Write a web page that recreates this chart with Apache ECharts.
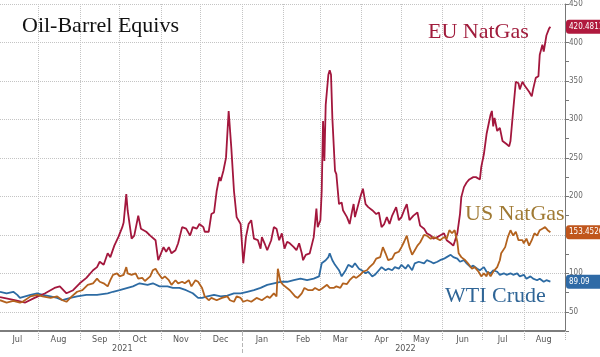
<!DOCTYPE html>
<html><head><meta charset="utf-8">
<script src="https://cdn.jsdelivr.net/npm/echarts@6/dist/echarts.min.js"></script>
<style>html,body{margin:0;padding:0;background:#fff}#c{width:600px;height:357px}</style>
</head><body><div id="c"></div>
<script>
const AXIS_START = [2021, 6, 3];   // 2021-07-03
const AXIS_END = '2022-09-01';
const MONTH_NAMES = ['Jan','Feb','Mar','Apr','May','Jun','Jul','Aug','Sep','Oct','Nov','Dec'];
const YEAR_LABELS = [['2021-10-03','2021'],['2022-05-04','2022']];
const YEAR_SPLIT = '2022-01-01';

const EU_NATGAS = [
['2021-07-03',69],['2021-07-14',65],['2021-07-22',62],['2021-07-29',68],['2021-08-06',74],['2021-08-13',81],['2021-08-17',83],['2021-08-22',74],['2021-08-27',78],['2021-09-01',87],['2021-09-06',94],['2021-09-11',104],['2021-09-14',108],['2021-09-16',115],['2021-09-19',111],['2021-09-22',126],['2021-09-24',121],['2021-09-27',136],['2021-09-30',147],['2021-10-03',160],['2021-10-04',166],['2021-10-06',203],['2021-10-07',182],['2021-10-10',145],['2021-10-12',149],['2021-10-15',175],['2021-10-17',158],['2021-10-19',156],['2021-10-21',154],['2021-10-24',149],['2021-10-28',143],['2021-10-30',117],['2021-10-31',115],['2021-11-03',134],['2021-11-05',128],['2021-11-07',134],['2021-11-09',126],['2021-11-12',130],['2021-11-14',139],['2021-11-17',160],['2021-11-20',158],['2021-11-23',149],['2021-11-25',160],['2021-11-28',158],['2021-11-30',164],['2021-12-03',160],['2021-12-04',154],['2021-12-07',154],['2021-12-09',177],['2021-12-11',179],['2021-12-13',207],['2021-12-15',225],['2021-12-16',220],['2021-12-18',233],['2021-12-20',250],['2021-12-22',311],['2021-12-24',263],['2021-12-26',207],['2021-12-28',173],['2021-12-31',164],['2022-01-02',113],['2022-01-04',147],['2022-01-06',164],['2022-01-08',169],['2022-01-10',145],['2022-01-13',143],['2022-01-15',132],['2022-01-16',147],['2022-01-18',139],['2022-01-20',130],['2022-01-23',143],['2022-01-25',160],['2022-01-27',158],['2022-01-29',143],['2022-01-31',152],['2022-02-02',132],['2022-02-04',141],['2022-02-06',139],['2022-02-09',134],['2022-02-11',130],['2022-02-13',139],['2022-02-15',126],['2022-02-16',117],['2022-02-18',124],['2022-02-21',126],['2022-02-24',147],['2022-02-26',184],['2022-02-27',160],['2022-03-01',169],['2022-03-02',207],['2022-03-03',298],['2022-03-04',246],['2022-03-05',319],['2022-03-07',358],['2022-03-08',364],['2022-03-09',358],['2022-03-10',302],['2022-03-12',233],['2022-03-13',229],['2022-03-15',190],['2022-03-17',192],['2022-03-18',182],['2022-03-21',173],['2022-03-23',164],['2022-03-25',182],['2022-03-26',190],['2022-03-27',173],['2022-03-29',186],['2022-03-31',199],['2022-04-02',210],['2022-04-04',190],['2022-04-06',186],['2022-04-09',182],['2022-04-12',177],['2022-04-14',179],['2022-04-16',160],['2022-04-18',164],['2022-04-20',173],['2022-04-22',164],['2022-04-24',175],['2022-04-27',186],['2022-04-29',169],['2022-05-01',173],['2022-05-03',182],['2022-05-05',190],['2022-05-07',169],['2022-05-10',175],['2022-05-13',179],['2022-05-15',162],['2022-05-18',158],['2022-05-20',152],['2022-05-23',149],['2022-05-25',145],['2022-05-28',147],['2022-05-30',149],['2022-06-02',152],['2022-06-04',143],['2022-06-07',139],['2022-06-09',136],['2022-06-10',141],['2022-06-12',152],['2022-06-14',177],['2022-06-15',199],['2022-06-17',212],['2022-06-19',218],['2022-06-21',222],['2022-06-24',225],['2022-06-26',225],['2022-06-29',222],['2022-06-30',238],['2022-07-02',255],['2022-07-04',281],['2022-07-05',283],['2022-07-07',306],['2022-07-08',311],['2022-07-09',291],['2022-07-10',302],['2022-07-12',285],['2022-07-14',289],['2022-07-16',272],['2022-07-19',268],['2022-07-21',265],['2022-07-22',272],['2022-07-24',311],['2022-07-26',349],['2022-07-28',347],['2022-07-29',339],['2022-07-31',349],['2022-08-02',343],['2022-08-05',336],['2022-08-07',330],['2022-08-08',339],['2022-08-10',354],['2022-08-12',356],['2022-08-13',384],['2022-08-15',397],['2022-08-16',388],['2022-08-17',390],['2022-08-18',409],['2022-08-20',418],['2022-08-21',420.4811]
];

const US_NATGAS = [
['2021-07-03',65],['2021-07-08',62],['2021-07-13',64],['2021-07-18',62],['2021-07-20',63],['2021-07-26',70],['2021-07-31',72],['2021-08-04',70],['2021-08-10',68],['2021-08-15',70],['2021-08-19',65],['2021-08-22',63],['2021-08-26',70],['2021-08-30',76],['2021-09-03',78],['2021-09-07',85],['2021-09-11',87],['2021-09-14',93],['2021-09-16',89],['2021-09-19',87],['2021-09-22',83],['2021-09-24',91],['2021-09-26',98],['2021-09-29',100],['2021-10-01',96],['2021-10-04',98],['2021-10-06',108],['2021-10-07',100],['2021-10-10',98],['2021-10-13',100],['2021-10-15',93],['2021-10-18',94],['2021-10-20',90],['2021-10-24',96],['2021-10-26',104],['2021-10-28',106],['2021-10-30',100],['2021-11-02',93],['2021-11-04',96],['2021-11-07',91],['2021-11-09',85],['2021-11-12',91],['2021-11-14',87],['2021-11-17',89],['2021-11-19',87],['2021-11-22',91],['2021-11-24',83],['2021-11-27',91],['2021-11-29',89],['2021-12-02',81],['2021-12-04',70],['2021-12-07',65],['2021-12-09',68],['2021-12-13',65],['2021-12-17',68],['2021-12-21',70],['2021-12-23',65],['2021-12-26',63],['2021-12-28',70],['2021-12-31',68],['2022-01-02',63],['2022-01-05',65],['2022-01-08',63],['2022-01-12',68],['2022-01-16',65],['2022-01-20',70],['2022-01-22',68],['2022-01-25',74],['2022-01-27',70],['2022-01-28',106],['2022-01-30',89],['2022-02-01',85],['2022-02-06',78],['2022-02-10',70],['2022-02-12',68],['2022-02-15',74],['2022-02-17',81],['2022-02-20',78],['2022-02-23',78],['2022-02-25',81],['2022-02-28',78],['2022-03-02',80],['2022-03-06',85],['2022-03-08',81],['2022-03-11',81],['2022-03-13',83],['2022-03-16',81],['2022-03-18',87],['2022-03-21',86],['2022-03-23',91],['2022-03-26',96],['2022-03-28',94],['2022-03-31',98],['2022-04-02',102],['2022-04-05',104],['2022-04-07',108],['2022-04-10',113],['2022-04-12',119],['2022-04-15',121],['2022-04-17',134],['2022-04-19',126],['2022-04-21',117],['2022-04-24',119],['2022-04-26',126],['2022-04-29',128],['2022-05-01',134],['2022-05-03',141],['2022-05-05',149],['2022-05-07',134],['2022-05-09',124],['2022-05-11',130],['2022-05-13',136],['2022-05-15',140],['2022-05-18',150],['2022-05-20',149],['2022-05-23',145],['2022-05-25',147],['2022-05-28',145],['2022-05-30',143],['2022-06-02',147],['2022-06-04',145],['2022-06-06',156],['2022-06-08',152],['2022-06-10',156],['2022-06-12',141],['2022-06-13',126],['2022-06-15',121],['2022-06-18',117],['2022-06-20',113],['2022-06-23',106],['2022-06-25',108],['2022-06-28',102],['2022-06-30',96],['2022-07-02',100],['2022-07-04',96],['2022-07-05',102],['2022-07-07',96],['2022-07-09',102],['2022-07-12',108],['2022-07-14',117],['2022-07-15',126],['2022-07-18',134],['2022-07-20',147],['2022-07-22',156],['2022-07-24',149],['2022-07-26',154],['2022-07-28',143],['2022-07-31',143],['2022-08-01',139],['2022-08-03',145],['2022-08-05',136],['2022-08-07',143],['2022-08-09',152],['2022-08-11',149],['2022-08-13',156],['2022-08-14',156],['2022-08-15',158],['2022-08-17',160],['2022-08-19',156],['2022-08-21',153.4526]
];

const WTI_CRUDE = [
['2021-07-03',76],['2021-07-08',74],['2021-07-13',76],['2021-07-16',72],['2021-07-18',68],['2021-07-22',70],['2021-07-26',72],['2021-07-31',74],['2021-08-04',72],['2021-08-10',70],['2021-08-15',68],['2021-08-19',65],['2021-08-25',68],['2021-08-30',70],['2021-09-06',72],['2021-09-14',72],['2021-09-22',74],['2021-09-26',76],['2021-10-01',78],['2021-10-07',81],['2021-10-11',83],['2021-10-16',87],['2021-10-22',85],['2021-10-26',87],['2021-10-31',83],['2021-11-06',83],['2021-11-10',81],['2021-11-15',81],['2021-11-20',78],['2021-11-25',74],['2021-11-29',68],['2021-12-02',68],['2021-12-06',70],['2021-12-11',72],['2021-12-16',70],['2021-12-21',71],['2021-12-26',74],['2021-12-31',74],['2022-01-05',76],['2022-01-10',78],['2022-01-15',81],['2022-01-20',85],['2022-01-25',87],['2022-01-30',89],['2022-02-04',89],['2022-02-09',91],['2022-02-14',93],['2022-02-19',91],['2022-02-24',93],['2022-02-28',96],['2022-03-02',113],['2022-03-05',117],['2022-03-07',121],['2022-03-08',126],['2022-03-10',117],['2022-03-12',111],['2022-03-15',104],['2022-03-17',96],['2022-03-20',104],['2022-03-22',111],['2022-03-25',108],['2022-03-27',113],['2022-03-30',106],['2022-04-01',104],['2022-04-04',100],['2022-04-06',102],['2022-04-09',96],['2022-04-11',98],['2022-04-14',104],['2022-04-16',108],['2022-04-19',104],['2022-04-21',106],['2022-04-24',104],['2022-04-26',108],['2022-04-29',106],['2022-05-01',111],['2022-05-04',106],['2022-05-06',111],['2022-05-09',104],['2022-05-11',113],['2022-05-14',115],['2022-05-18',113],['2022-05-20',117],['2022-05-23',115],['2022-05-25',113],['2022-05-28',115],['2022-05-30',117],['2022-06-02',119],['2022-06-04',121],['2022-06-07',124],['2022-06-09',121],['2022-06-12',119],['2022-06-14',115],['2022-06-17',117],['2022-06-19',113],['2022-06-22',108],['2022-06-24',110],['2022-06-27',106],['2022-06-29',104],['2022-07-02',108],['2022-07-04',102],['2022-07-07',100],['2022-07-09',104],['2022-07-12',102],['2022-07-14',98],['2022-07-17',100],['2022-07-19',98],['2022-07-22',100],['2022-07-24',98],['2022-07-27',100],['2022-07-29',96],['2022-08-01',98],['2022-08-03',93],['2022-08-06',96],['2022-08-08',93],['2022-08-11',91],['2022-08-13',93],['2022-08-16',89],['2022-08-18',91],['2022-08-21',89.09]
];

const SERIES = [
  {name:'WTI Crude', data:WTI_CRUDE, color:'#2d6ba3', tag:'89.09', label:{x:445,y:285}},
  {name:'EU NatGas', data:EU_NATGAS, color:'#a3173d', tag:'420.4811', label:{x:428,y:21}},
  {name:'US NatGas', data:US_NATGAS, color:'#b3621e', tag:'153.4526', label:{x:465,y:203}}
];
const TAG_COLORS = {'WTI Crude':'#2f6aa6','EU NatGas':'#b01a3e','US NatGas':'#c0561c'};
const LABEL_COLORS = {'WTI Crude':'#2f6596','EU NatGas':'#a01c3c','US NatGas':'#a07a34'};

function pad(n){return n<10?'0'+n:''+n;}
const DAYS = [];
(function(){
  let t = Date.UTC(AXIS_START[0], AXIS_START[1], AXIS_START[2]);
  while (true) {
    const d = new Date(t);
    const s = d.getUTCFullYear()+'-'+pad(d.getUTCMonth()+1)+'-'+pad(d.getUTCDate());
    DAYS.push(s);
    if (s === AXIS_END) break;
    t += 86400000;
  }
})();

const chart = echarts.init(document.getElementById('c'), null, {renderer:'canvas'});
const sansFont = '"DejaVu Sans Condensed","DejaVu Sans",sans-serif';
const serifFont = '"Liberation Serif","DejaVu Serif",serif';
const GRID_GRAY = '#c4c4c4';

const option = {
  animation:false,
  backgroundColor:'#fff',
  grid:{left:0, right:35, top:2, bottom:26, containLabel:false},
  xAxis:[{
    type:'category', data:DAYS, boundaryGap:false,
    axisLine:{show:true, lineStyle:{color:'#7d7d7d', width:2}},
    axisTick:{show:true, interval:(i,v)=>v.slice(8)==='01', length:9, lineStyle:{color:'#b5b5b5', type:'dotted'}},
    axisLabel:{show:true, interval:(i,v)=>v.slice(8)==='16', formatter:v=>MONTH_NAMES[+v.slice(5,7)-1], color:'#555', fontSize:9, margin:4, fontFamily:sansFont},
    splitLine:{show:true, interval:(i,v)=>v.slice(8)==='01', lineStyle:{color:GRID_GRAY, type:'dotted', width:1}}
  },{
    type:'category', data:DAYS, boundaryGap:false, position:'bottom',
    axisLine:{show:false},
    axisTick:{show:true, interval:(i,v)=>v===YEAR_SPLIT, length:24, lineStyle:{color:'#b5b5b5', type:'dashed'}},
    axisLabel:{show:true, interval:(i,v)=>YEAR_LABELS.some(y=>y[0]===v), formatter:v=>{const f=YEAR_LABELS.find(y=>y[0]===v);return f?f[1]:'';}, color:'#555', fontSize:9, margin:13, fontFamily:sansFont},
    splitLine:{show:false}
  }],
  yAxis:{
    type:'value', position:'right', min:25, max:450, interval:25,
    axisLine:{show:true, lineStyle:{color:'#777', width:1}},
    axisTick:{show:true, length:4, lineStyle:{color:'#777'}},
    axisLabel:{formatter:v=>(v%50===0?String(v):''), color:'#666', fontSize:8, margin:4, fontFamily:sansFont},
    splitLine:{show:true, lineStyle:{color:['rgba(0,0,0,0)', GRID_GRAY], type:'dotted', width:1}}
  },
  series: SERIES.map((s,i)=>({
    name:s.name, type:'line', data:s.data, xAxisIndex:0, showSymbol:false, symbol:'none',
    lineStyle:{color:s.color, width:1.8}, itemStyle:{color:s.color}, z:3+i
  }))
};
chart.setOption(option);

const graphics = [
  {type:'text', x:22, y:15, style:{text:'Oil-Barrel Equivs', font:'22px '+serifFont, fill:'#111'}, z:20}
];
SERIES.forEach(s=>{
  graphics.push({type:'text', x:s.label.x, y:s.label.y, style:{text:s.name, font:'22px '+serifFont, fill:LABEL_COLORS[s.name]}, z:20});
  const last = s.data[s.data.length-1][1];
  const py = chart.convertToPixel({yAxisIndex:0}, last);
  graphics.push({type:'rect', shape:{x:566, y:py-7, width:40, height:14, r:3}, style:{fill:TAG_COLORS[s.name]}, z:20});
  graphics.push({type:'text', x:569, y:py, style:{text:s.tag, font:'8px '+sansFont, fill:'#fff', verticalAlign:'middle'}, z:21});
});
chart.setOption({graphic:graphics});
</script></body></html>
